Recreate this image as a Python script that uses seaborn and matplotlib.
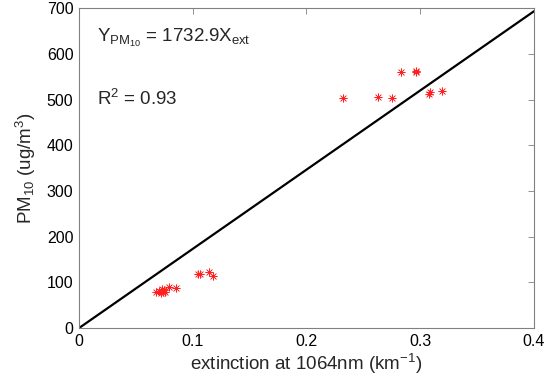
import matplotlib
matplotlib.use("Agg")
import matplotlib.pyplot as plt
import seaborn as sns
import numpy as np
import pandas as pd

# measured extinction (km^-1) vs PM10 (ug/m3)
ext = [0.068, 0.070, 0.072, 0.073, 0.074, 0.075, 0.076, 0.079, 0.085,
       0.105, 0.106, 0.114, 0.118,
       0.232, 0.263, 0.275, 0.283, 0.296, 0.296, 0.308, 0.309, 0.319]
pm10 = [78, 82, 76, 85, 80, 84, 78, 90, 88,
        118, 118, 123, 114,
        503, 505, 503, 560, 560, 562, 512, 517, 519]

slope = 1732.9
fit_x = [0.0, 0.4]
fit_y = [slope * v for v in fit_x]

x_ticks = [0, 0.1, 0.2, 0.3, 0.4]
y_ticks = [0, 100, 200, 300, 400, 500, 600, 700]

sns.set_theme(style="white")
plt.rcParams['font.family'] = ['Liberation Sans', 'DejaVu Sans']
plt.rcParams['mathtext.fontset'] = 'custom'
plt.rcParams['mathtext.rm'] = 'Liberation Sans'
plt.rcParams['mathtext.it'] = 'Liberation Sans'

df = pd.DataFrame({'ext': ext, 'pm10': pm10})
fit = pd.DataFrame({'x': fit_x, 'y': fit_y})

fig = plt.figure(figsize=(5.5, 3.86), dpi=100)
ax = fig.add_axes([0.1436, 0.150, 0.8273, 0.829])

sns.lineplot(data=fit, x='x', y='y', color='black', linewidth=1.6, ax=ax)
sns.scatterplot(data=df, x='ext', y='pm10', marker=(8, 2, 0), s=30,
                color='#ff2020', edgecolor='#ff2020', linewidth=0.45, ax=ax)

ax.set_xlim(0, 0.4)
ax.set_ylim(0, 700)
ax.set_xticks(x_ticks)
ax.set_xticklabels(['0', '0.1', '0.2', '0.3', '0.4'])
ax.set_yticks(y_ticks)
ax.tick_params(direction='in', length=4, width=0.6, color='#808080',
               labelsize=11.5, top=True, right=True, pad=4, labelcolor='black')
for sp in ax.spines.values():
    sp.set_color('#808080')
    sp.set_linewidth(0.8)

ax.set_xlabel(r'extinction at 1064nm (km$^{-1}$)', fontsize=13.5, labelpad=2)
ax.set_ylabel(r'PM$_{10}$ (ug/m$^{3}$)', fontsize=13.5, labelpad=6)

ax.text(0.016, 635, r'Y$_{PM_{10}}$ = 1732.9X$_{ext}$', fontsize=13.5, va='center')
ax.text(0.016, 502, r'R$^{2}$ = 0.93', fontsize=13.5, va='center')

fig.savefig('out.png', dpi=100)
